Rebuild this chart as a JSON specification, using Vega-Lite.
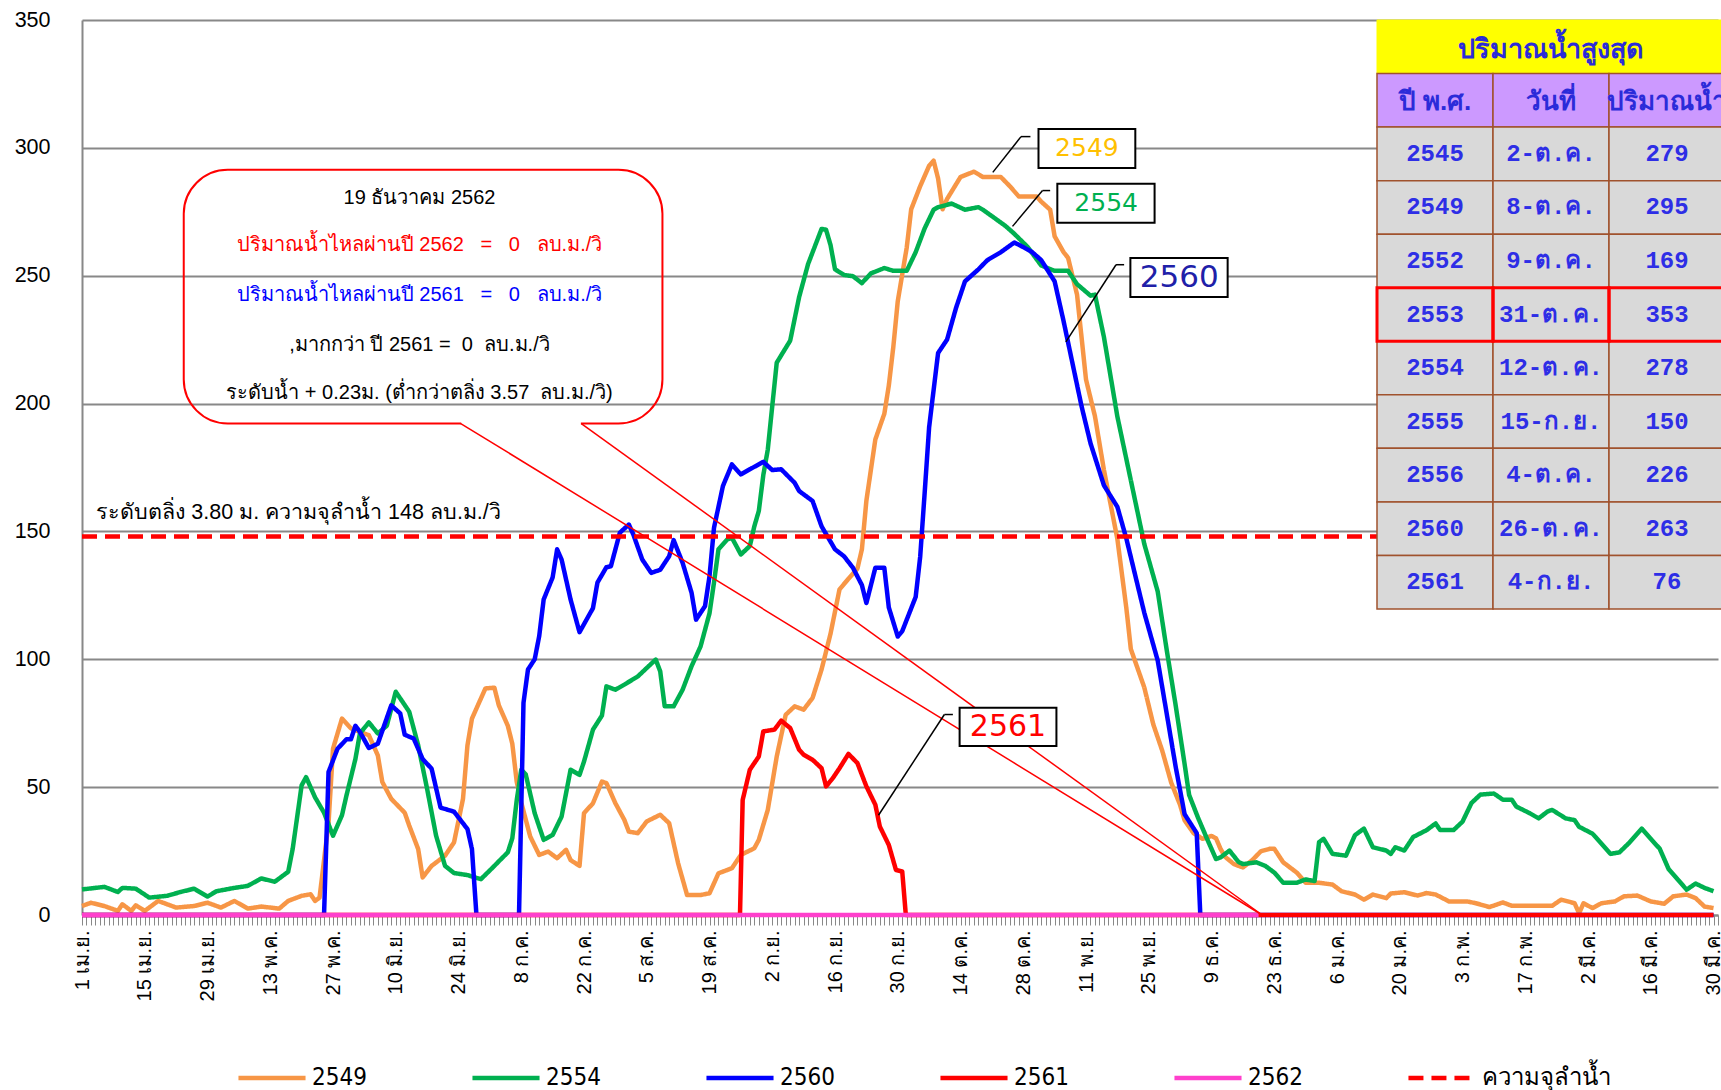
{
"$schema":"https://vega.github.io/schema/vega-lite/v6.json",
"width":1636,"height":895,
"autosize":{"type":"none"},
"padding":{"left":82,"top":20,"right":3,"bottom":175},
"background":"white",
"config":{"view":{"stroke":null},"font":"Liberation Sans"},
"datasets":{
"one":[{}],
"tbl":[{"year":"2545","date":"2-ต.ค.","flow":"279"},{"year":"2549","date":"8-ต.ค.","flow":"295"},{"year":"2552","date":"9-ต.ค.","flow":"169"},{"year":"2553","date":"31-ต.ค.","flow":"353"},{"year":"2554","date":"12-ต.ค.","flow":"278"},{"year":"2555","date":"15-ก.ย.","flow":"150"},{"year":"2556","date":"4-ต.ค.","flow":"226"},{"year":"2560","date":"26-ต.ค.","flow":"263"},{"year":"2561","date":"4-ก.ย.","flow":"76"}],
"hdr":[{"col":"year","label":"ปี พ.ศ."},{"col":"date","label":"วันที่"},{"col":"flow","label":"ปริมาณน้ำ"}],
"flow":[
{"s":"2549","d":0,"q":3.5},{"s":"2549","d":2,"q":4.8},{"s":"2549","d":5,"q":3.5},{"s":"2549","d":8,"q":1.6},{"s":"2549","d":9,"q":4.2},{"s":"2549","d":11,"q":1.6},{"s":"2549","d":12,"q":3.8},{"s":"2549","d":14,"q":1.6},{"s":"2549","d":17,"q":5.5},{"s":"2549","d":21,"q":2.9},{"s":"2549","d":25,"q":3.5},{"s":"2549","d":28,"q":4.8},{"s":"2549","d":31,"q":2.9},{"s":"2549","d":34,"q":5.5},{"s":"2549","d":37,"q":2.5},{"s":"2549","d":40,"q":3.3},{"s":"2549","d":44,"q":2.5},{"s":"2549","d":46,"q":5.5},{"s":"2549","d":49,"q":7.5},{"s":"2549","d":51,"q":8.1},{"s":"2549","d":52,"q":5.5},{"s":"2549","d":53,"q":6.8},{"s":"2549","d":55,"q":36},{"s":"2549","d":56,"q":65},{"s":"2549","d":58,"q":76.8},{"s":"2549","d":60,"q":73},{"s":"2549","d":62,"q":71.6},{"s":"2549","d":64,"q":70.3},{"s":"2549","d":66,"q":62.4},{"s":"2549","d":67,"q":52},{"s":"2549","d":69,"q":45.4},{"s":"2549","d":72,"q":40},{"s":"2549","d":73,"q":35},{"s":"2549","d":75,"q":25.8},{"s":"2549","d":76,"q":14.7},{"s":"2549","d":78,"q":19.2},{"s":"2549","d":81,"q":23.2},{"s":"2549","d":83,"q":28.4},{"s":"2549","d":85,"q":45.4},{"s":"2549","d":86,"q":66.4},{"s":"2549","d":87,"q":76.8},{"s":"2549","d":90,"q":88.6},{"s":"2549","d":92,"q":88.9},{"s":"2549","d":93,"q":82},{"s":"2549","d":95,"q":74},{"s":"2549","d":96,"q":67},{"s":"2549","d":97,"q":52},{"s":"2549","d":98,"q":44},{"s":"2549","d":100,"q":30.7},{"s":"2549","d":102,"q":23.5},{"s":"2549","d":104,"q":24.8},{"s":"2549","d":106,"q":22.2},{"s":"2549","d":108,"q":25.5},{"s":"2549","d":109,"q":21.5},{"s":"2549","d":111,"q":19.2},{"s":"2549","d":112,"q":39.8},{"s":"2549","d":114,"q":43.7},{"s":"2549","d":116,"q":52.2},{"s":"2549","d":117,"q":51.6},{"s":"2549","d":119,"q":43.7},{"s":"2549","d":121,"q":37.2},{"s":"2549","d":122,"q":32.6},{"s":"2549","d":124,"q":32},{"s":"2549","d":126,"q":36.6},{"s":"2549","d":129,"q":39.2},{"s":"2549","d":131,"q":35.9},{"s":"2549","d":133,"q":20.2},{"s":"2549","d":135,"q":7.8},{"s":"2549","d":138,"q":7.8},{"s":"2549","d":140,"q":8.5},{"s":"2549","d":142,"q":16.3},{"s":"2549","d":145,"q":18.3},{"s":"2549","d":147,"q":23.5},{"s":"2549","d":150,"q":26.1},{"s":"2549","d":151,"q":29.4},{"s":"2549","d":153,"q":41.1},{"s":"2549","d":155,"q":62},{"s":"2549","d":157,"q":78.3},{"s":"2549","d":159,"q":81.6},{"s":"2549","d":161,"q":80.3},{"s":"2549","d":163,"q":84.9},{"s":"2549","d":165,"q":96},{"s":"2549","d":167,"q":110},{"s":"2549","d":169,"q":127.3},{"s":"2549","d":171,"q":131.5},{"s":"2549","d":173,"q":135.5},{"s":"2549","d":174,"q":143},{"s":"2549","d":175,"q":162},{"s":"2549","d":177,"q":186},{"s":"2549","d":179,"q":196},{"s":"2549","d":180,"q":207},{"s":"2549","d":181,"q":222},{"s":"2549","d":182,"q":240},{"s":"2549","d":184,"q":261},{"s":"2549","d":185,"q":276},{"s":"2549","d":187,"q":285},{"s":"2549","d":189,"q":293},{"s":"2549","d":190,"q":295},{"s":"2549","d":191,"q":288},{"s":"2549","d":192,"q":276},{"s":"2549","d":193,"q":280},{"s":"2549","d":196,"q":288.6},{"s":"2549","d":199,"q":290.7},{"s":"2549","d":201,"q":288.6},{"s":"2549","d":205,"q":288.6},{"s":"2549","d":207,"q":285},{"s":"2549","d":209,"q":281},{"s":"2549","d":213,"q":281},{"s":"2549","d":214,"q":279},{"s":"2549","d":216,"q":275.8},{"s":"2549","d":217,"q":265.4},{"s":"2549","d":219,"q":259.2},{"s":"2549","d":220,"q":257},{"s":"2549","d":222,"q":242.6},{"s":"2549","d":223,"q":226},{"s":"2549","d":224,"q":209.4},{"s":"2549","d":226,"q":195},{"s":"2549","d":228,"q":174},{"s":"2549","d":231,"q":147},{"s":"2549","d":233,"q":120},{"s":"2549","d":234,"q":104},{"s":"2549","d":237,"q":89},{"s":"2549","d":239,"q":74.6},{"s":"2549","d":241,"q":64.3},{"s":"2549","d":243,"q":51.8},{"s":"2549","d":245,"q":43},{"s":"2549","d":246,"q":37},{"s":"2549","d":248,"q":32},{"s":"2549","d":250,"q":29.8},{"s":"2549","d":252,"q":30.9},{"s":"2549","d":253,"q":30},{"s":"2549","d":254,"q":25.9},{"s":"2549","d":255,"q":22.8},{"s":"2549","d":257,"q":19.9},{"s":"2549","d":259,"q":18.6},{"s":"2549","d":261,"q":21.3},{"s":"2549","d":263,"q":24.9},{"s":"2549","d":265,"q":25.9},{"s":"2549","d":266,"q":25.9},{"s":"2549","d":268,"q":20.6},{"s":"2549","d":271,"q":16.6},{"s":"2549","d":273,"q":12.6},{"s":"2549","d":276,"q":12.6},{"s":"2549","d":279,"q":11.9},{"s":"2549","d":281,"q":9.3},{"s":"2549","d":284,"q":8},{"s":"2549","d":286,"q":6},{"s":"2549","d":288,"q":8},{"s":"2549","d":291,"q":6.6},{"s":"2549","d":292,"q":8.4},{"s":"2549","d":295,"q":8.9},{"s":"2549","d":298,"q":7.6},{"s":"2549","d":300,"q":8.6},{"s":"2549","d":302,"q":8},{"s":"2549","d":305,"q":5.3},{"s":"2549","d":309,"q":5.3},{"s":"2549","d":311,"q":4.6},{"s":"2549","d":314,"q":3.1},{"s":"2549","d":317,"q":4.9},{"s":"2549","d":319,"q":3.6},{"s":"2549","d":323,"q":3.6},{"s":"2549","d":328,"q":3.6},{"s":"2549","d":330,"q":6},{"s":"2549","d":333,"q":4.6},{"s":"2549","d":334,"q":0.7},{"s":"2549","d":335,"q":4.6},{"s":"2549","d":337,"q":2.7},{"s":"2549","d":339,"q":4.6},{"s":"2549","d":342,"q":5.3},{"s":"2549","d":344,"q":7.3},{"s":"2549","d":347,"q":7.6},{"s":"2549","d":350,"q":5.3},{"s":"2549","d":353,"q":4.4},{"s":"2549","d":355,"q":7.3},{"s":"2549","d":358,"q":8},{"s":"2549","d":360,"q":6.6},{"s":"2549","d":362,"q":3.3},{"s":"2549","d":364,"q":2.7},
{"s":"2554","d":0,"q":10},{"s":"2554","d":5,"q":11},{"s":"2554","d":8,"q":9},{"s":"2554","d":9,"q":10.6},{"s":"2554","d":12,"q":10.3},{"s":"2554","d":15,"q":6.8},{"s":"2554","d":19,"q":7.5},{"s":"2554","d":22,"q":9},{"s":"2554","d":25,"q":10.3},{"s":"2554","d":28,"q":7.2},{"s":"2554","d":30,"q":9.3},{"s":"2554","d":34,"q":10.6},{"s":"2554","d":37,"q":11.4},{"s":"2554","d":40,"q":14.3},{"s":"2554","d":43,"q":13},{"s":"2554","d":46,"q":16.9},{"s":"2554","d":47,"q":25.8},{"s":"2554","d":49,"q":50.7},{"s":"2554","d":50,"q":53.9},{"s":"2554","d":52,"q":46},{"s":"2554","d":54,"q":40},{"s":"2554","d":56,"q":31},{"s":"2554","d":58,"q":39},{"s":"2554","d":59,"q":46.7},{"s":"2554","d":61,"q":61},{"s":"2554","d":62,"q":71},{"s":"2554","d":64,"q":75.3},{"s":"2554","d":66,"q":71},{"s":"2554","d":68,"q":74},{"s":"2554","d":70,"q":87.3},{"s":"2554","d":73,"q":79.5},{"s":"2554","d":75,"q":66.4},{"s":"2554","d":77,"q":49.3},{"s":"2554","d":79,"q":31},{"s":"2554","d":81,"q":19.2},{"s":"2554","d":83,"q":16.4},{"s":"2554","d":86,"q":15.6},{"s":"2554","d":89,"q":14},{"s":"2554","d":92,"q":19.2},{"s":"2554","d":93,"q":21},{"s":"2554","d":95,"q":24.5},{"s":"2554","d":96,"q":30},{"s":"2554","d":97,"q":45},{"s":"2554","d":98,"q":56.8},{"s":"2554","d":99,"q":55},{"s":"2554","d":101,"q":39.8},{"s":"2554","d":103,"q":29.4},{"s":"2554","d":105,"q":31.3},{"s":"2554","d":107,"q":38.5},{"s":"2554","d":109,"q":56.8},{"s":"2554","d":111,"q":54.8},{"s":"2554","d":112,"q":60},{"s":"2554","d":114,"q":72.5},{"s":"2554","d":116,"q":78},{"s":"2554","d":117,"q":89.4},{"s":"2554","d":119,"q":88.1},{"s":"2554","d":121,"q":90.1},{"s":"2554","d":124,"q":93.3},{"s":"2554","d":126,"q":96.6},{"s":"2554","d":128,"q":99.9},{"s":"2554","d":129,"q":95.3},{"s":"2554","d":130,"q":81.6},{"s":"2554","d":132,"q":81.6},{"s":"2554","d":134,"q":88.1},{"s":"2554","d":136,"q":97.3},{"s":"2554","d":138,"q":105},{"s":"2554","d":140,"q":118},{"s":"2554","d":141,"q":130},{"s":"2554","d":142,"q":143},{"s":"2554","d":144,"q":146.9},{"s":"2554","d":145,"q":147.5},{"s":"2554","d":147,"q":141},{"s":"2554","d":149,"q":144.3},{"s":"2554","d":150,"q":152},{"s":"2554","d":151,"q":158},{"s":"2554","d":152,"q":172},{"s":"2554","d":153,"q":182},{"s":"2554","d":155,"q":216},{"s":"2554","d":158,"q":224.6},{"s":"2554","d":160,"q":241.7},{"s":"2554","d":162,"q":254.6},{"s":"2554","d":165,"q":268.3},{"s":"2554","d":166,"q":268},{"s":"2554","d":167,"q":262},{"s":"2554","d":168,"q":252.5},{"s":"2554","d":170,"q":250.3},{"s":"2554","d":172,"q":249.8},{"s":"2554","d":174,"q":247.1},{"s":"2554","d":176,"q":250.9},{"s":"2554","d":179,"q":253},{"s":"2554","d":181,"q":251.9},{"s":"2554","d":184,"q":251.9},{"s":"2554","d":186,"q":259.2},{"s":"2554","d":188,"q":268.5},{"s":"2554","d":190,"q":275.8},{"s":"2554","d":191,"q":276.8},{"s":"2554","d":194,"q":278.2},{"s":"2554","d":197,"q":275.8},{"s":"2554","d":200,"q":276.8},{"s":"2554","d":201,"q":275.8},{"s":"2554","d":203,"q":273.3},{"s":"2554","d":206,"q":269.5},{"s":"2554","d":208,"q":266.4},{"s":"2554","d":211,"q":261.2},{"s":"2554","d":214,"q":254},{"s":"2554","d":217,"q":251.9},{"s":"2554","d":220,"q":251.9},{"s":"2554","d":222,"q":246.7},{"s":"2554","d":225,"q":242.2},{"s":"2554","d":226,"q":242.6},{"s":"2554","d":228,"q":226},{"s":"2554","d":230,"q":205.3},{"s":"2554","d":231,"q":194.9},{"s":"2554","d":233,"q":178.3},{"s":"2554","d":235,"q":161.7},{"s":"2554","d":237,"q":145.1},{"s":"2554","d":240,"q":126.5},{"s":"2554","d":242,"q":103.7},{"s":"2554","d":244,"q":82},{"s":"2554","d":246,"q":59},{"s":"2554","d":247,"q":47},{"s":"2554","d":249,"q":38},{"s":"2554","d":251,"q":29.8},{"s":"2554","d":253,"q":21.9},{"s":"2554","d":254,"q":22.5},{"s":"2554","d":256,"q":25.2},{"s":"2554","d":258,"q":20.8},{"s":"2554","d":259,"q":19.9},{"s":"2554","d":262,"q":20.6},{"s":"2554","d":264,"q":19.2},{"s":"2554","d":266,"q":16.6},{"s":"2554","d":268,"q":12.6},{"s":"2554","d":271,"q":12.6},{"s":"2554","d":273,"q":13.9},{"s":"2554","d":275,"q":13.3},{"s":"2554","d":276,"q":28.5},{"s":"2554","d":277,"q":29.8},{"s":"2554","d":279,"q":23.9},{"s":"2554","d":282,"q":23.2},{"s":"2554","d":284,"q":31.2},{"s":"2554","d":286,"q":33.8},{"s":"2554","d":288,"q":26.5},{"s":"2554","d":291,"q":25.2},{"s":"2554","d":292,"q":23.9},{"s":"2554","d":293,"q":26.5},{"s":"2554","d":295,"q":25.2},{"s":"2554","d":297,"q":30.5},{"s":"2554","d":300,"q":33.2},{"s":"2554","d":302,"q":35.8},{"s":"2554","d":303,"q":33.2},{"s":"2554","d":306,"q":33.2},{"s":"2554","d":308,"q":36.5},{"s":"2554","d":310,"q":43.8},{"s":"2554","d":312,"q":47.1},{"s":"2554","d":315,"q":47.5},{"s":"2554","d":317,"q":45.1},{"s":"2554","d":319,"q":45.1},{"s":"2554","d":320,"q":42.4},{"s":"2554","d":323,"q":39.8},{"s":"2554","d":325,"q":37.8},{"s":"2554","d":327,"q":40.5},{"s":"2554","d":328,"q":41.1},{"s":"2554","d":331,"q":37.8},{"s":"2554","d":333,"q":37.1},{"s":"2554","d":334,"q":34.5},{"s":"2554","d":337,"q":31.8},{"s":"2554","d":340,"q":25.9},{"s":"2554","d":341,"q":23.9},{"s":"2554","d":343,"q":24.5},{"s":"2554","d":345,"q":27.9},{"s":"2554","d":348,"q":33.8},{"s":"2554","d":350,"q":29.8},{"s":"2554","d":352,"q":25.9},{"s":"2554","d":354,"q":17.9},{"s":"2554","d":356,"q":13.9},{"s":"2554","d":358,"q":9.9},{"s":"2554","d":360,"q":12.3},{"s":"2554","d":362,"q":10.6},{"s":"2554","d":364,"q":9.3},
{"s":"2560","d":0,"q":0},{"s":"2560","d":54,"q":0},{"s":"2560","d":55,"q":55.9},{"s":"2560","d":57,"q":65},{"s":"2560","d":59,"q":68.7},{"s":"2560","d":60,"q":68.7},{"s":"2560","d":61,"q":74},{"s":"2560","d":62,"q":71.6},{"s":"2560","d":64,"q":65.3},{"s":"2560","d":66,"q":67},{"s":"2560","d":69,"q":82},{"s":"2560","d":71,"q":78.8},{"s":"2560","d":72,"q":70.5},{"s":"2560","d":74,"q":69},{"s":"2560","d":76,"q":61},{"s":"2560","d":78,"q":57.2},{"s":"2560","d":80,"q":42},{"s":"2560","d":83,"q":40.4},{"s":"2560","d":86,"q":33.6},{"s":"2560","d":87,"q":25.8},{"s":"2560","d":88,"q":0},{"s":"2560","d":97.5,"q":0},{"s":"2560","d":98.5,"q":83},{"s":"2560","d":99.5,"q":96},{"s":"2560","d":101,"q":100},{"s":"2560","d":102,"q":109},{"s":"2560","d":103,"q":123.4},{"s":"2560","d":105,"q":132},{"s":"2560","d":106,"q":143},{"s":"2560","d":107,"q":139},{"s":"2560","d":109,"q":123.4},{"s":"2560","d":111,"q":110.6},{"s":"2560","d":114,"q":120},{"s":"2560","d":115,"q":130},{"s":"2560","d":117,"q":136},{"s":"2560","d":118,"q":136.4},{"s":"2560","d":120,"q":149.5},{"s":"2560","d":122,"q":152.7},{"s":"2560","d":123,"q":148.8},{"s":"2560","d":125,"q":139},{"s":"2560","d":127,"q":133.8},{"s":"2560","d":129,"q":135},{"s":"2560","d":131,"q":140.3},{"s":"2560","d":132,"q":146.6},{"s":"2560","d":134,"q":137.7},{"s":"2560","d":136,"q":126},{"s":"2560","d":137,"q":115.5},{"s":"2560","d":139,"q":120.8},{"s":"2560","d":140,"q":132.5},{"s":"2560","d":141,"q":151.4},{"s":"2560","d":143,"q":167.8},{"s":"2560","d":145,"q":176.2},{"s":"2560","d":147,"q":172.3},{"s":"2560","d":149,"q":174.3},{"s":"2560","d":152,"q":177.2},{"s":"2560","d":154,"q":174},{"s":"2560","d":156,"q":174.3},{"s":"2560","d":159,"q":169},{"s":"2560","d":160,"q":165.8},{"s":"2560","d":163,"q":161.9},{"s":"2560","d":165,"q":152},{"s":"2560","d":168,"q":143},{"s":"2560","d":170,"q":140.3},{"s":"2560","d":172,"q":135.8},{"s":"2560","d":174,"q":129},{"s":"2560","d":175,"q":122},{"s":"2560","d":177,"q":135.8},{"s":"2560","d":179,"q":135.8},{"s":"2560","d":180,"q":120.3},{"s":"2560","d":182,"q":108.9},{"s":"2560","d":183,"q":111},{"s":"2560","d":186,"q":124.4},{"s":"2560","d":187,"q":140},{"s":"2560","d":188,"q":165},{"s":"2560","d":189,"q":190.8},{"s":"2560","d":191,"q":219.8},{"s":"2560","d":193,"q":225},{"s":"2560","d":195,"q":237.4},{"s":"2560","d":197,"q":247.8},{"s":"2560","d":200,"q":252.5},{"s":"2560","d":202,"q":256.1},{"s":"2560","d":205,"q":259.2},{"s":"2560","d":208,"q":263},{"s":"2560","d":210,"q":261.2},{"s":"2560","d":212,"q":259.2},{"s":"2560","d":214,"q":256.1},{"s":"2560","d":217,"q":247.8},{"s":"2560","d":219,"q":232.2},{"s":"2560","d":221,"q":215.6},{"s":"2560","d":223,"q":199},{"s":"2560","d":225,"q":184.5},{"s":"2560","d":228,"q":168},{"s":"2560","d":231,"q":159.6},{"s":"2560","d":233,"q":147.2},{"s":"2560","d":235,"q":132.7},{"s":"2560","d":237,"q":118.2},{"s":"2560","d":240,"q":99.5},{"s":"2560","d":242,"q":78.8},{"s":"2560","d":244,"q":58},{"s":"2560","d":246,"q":39.4},{"s":"2560","d":248.7,"q":32},{"s":"2560","d":249.5,"q":0},{"s":"2560","d":364,"q":0},
{"s":"2561","d":0,"q":0},{"s":"2561","d":146.8,"q":0},{"s":"2561","d":147.4,"q":45},{"s":"2561","d":149,"q":56.8},{"s":"2561","d":151,"q":62},{"s":"2561","d":152,"q":71.8},{"s":"2561","d":154.5,"q":72.5},{"s":"2561","d":156,"q":76},{"s":"2561","d":158,"q":73.1},{"s":"2561","d":160,"q":64.6},{"s":"2561","d":161,"q":62.7},{"s":"2561","d":163,"q":60.7},{"s":"2561","d":165,"q":57.4},{"s":"2561","d":166,"q":50.3},{"s":"2561","d":167.5,"q":53.5},{"s":"2561","d":169,"q":57.4},{"s":"2561","d":171,"q":63},{"s":"2561","d":173,"q":59.4},{"s":"2561","d":175,"q":50.3},{"s":"2561","d":177,"q":43.1},{"s":"2561","d":178,"q":34.6},{"s":"2561","d":180,"q":27.4},{"s":"2561","d":181.6,"q":17.6},{"s":"2561","d":183,"q":17},{"s":"2561","d":183.8,"q":0},{"s":"2561","d":364,"q":0},
{"s":"2562","d":0,"q":0},{"s":"2562","d":262.5,"q":0},
{"s":"ความจุลำน้ำ","d":0,"q":148},{"s":"ความจุลำน้ำ","d":365,"q":148}
]},
"layer":[
{"layer":[
{"data":{"name":"flow"},
 "mark":{"type":"line","strokeJoin":"round"},
 "encoding":{
  "x":{"field":"d","type":"quantitative","scale":{"domain":[0,365],"nice":false,"zero":false},
   "axis":{"title":null,"tickCount":365,"labelExpr":"datum.value % 14 == 0 ? ['1 เม.ย.','15 เม.ย.','29 เม.ย.','13 พ.ค.','27 พ.ค.','10 มิ.ย.','24 มิ.ย.','8 ก.ค.','22 ก.ค.','5 ส.ค.','19 ส.ค.','2 ก.ย.','16 ก.ย.','30 ก.ย.','14 ต.ค.','28 ต.ค.','11 พ.ย.','25 พ.ย.','9 ธ.ค.','23 ธ.ค.','6 ม.ค.','20 ม.ค.','3 ก.พ.','17 ก.พ.','2 มี.ค.','16 มี.ค.','30 มี.ค.'][datum.value / 14] : ''","labelAngle":270,"labelFontSize":20,"labelColor":"#000","labelOverlap":false,"labelFlush":false,"labelBound":false,"tickColor":"#888","tickSize":10,"tickWidth":1,"domainColor":"#888","domainWidth":2,"grid":false,"labelPadding":5}},
  "y":{"field":"q","type":"quantitative","scale":{"domain":[0,350],"nice":false},
   "axis":{"title":null,"values":[0,50,100,150,200,250,300,350],"grid":true,"gridColor":"#888","gridWidth":2,"ticks":false,"domainColor":"#888","domainWidth":2,"labelFontSize":21.5,"labelColor":"#000","labelPadding":32}},
  "color":{"field":"s","type":"nominal","scale":{"domain":["2549","2554","2560","2561","2562","ความจุลำน้ำ"],"range":["#F79646","#00B050","#0000FF","#FF0000","#FF40CC","#FF0000"]},
   "legend":{"orient":"none","legendX":154,"legendY":1022,"direction":"horizontal","columns":6,"title":null,"symbolType":"stroke","symbolSize":4500,"symbolStrokeWidth":7,"labelFontSize":24,"labelFont":"DejaVu Sans Condensed, Liberation Sans","labelColor":"#000","columnPadding":22,"gridAlign":"all","labelOffset":4}},
  "strokeDash":{"field":"s","type":"nominal","scale":{"domain":["2549","2554","2560","2561","2562","ความจุลำน้ำ"],"range":[[1,0],[1,0],[1,0],[1,0],[1,0],[15,8]]},
   "legend":{"orient":"none","legendX":154,"legendY":1022,"direction":"horizontal","columns":6,"title":null,"symbolType":"stroke","symbolSize":4500,"symbolStrokeWidth":7,"labelFontSize":24,"labelFont":"DejaVu Sans Condensed, Liberation Sans","labelColor":"#000","columnPadding":22,"gridAlign":"all","labelOffset":4}},
  "strokeWidth":{"field":"s","type":"ordinal","scale":{"domain":["2549","2554","2560","2561","2562","ความจุลำน้ำ"],"range":[4.5,4.5,5.5,5,5,4.5]},"legend":null}
 }},
{"data":{"name":"one"},"mark":{"type":"rect","filled":false,"stroke":"#FF0000","strokeWidth":2,"cornerRadius":44},"encoding":{"x":{"datum":22.7},"x2":{"datum":129.5},"y":{"datum":291.4},"y2":{"datum":192.2}}},
{"data":{"name":"one"},"mark":{"type":"rule","color":"white","strokeWidth":4},"encoding":{"x":{"datum":84.6},"x2":{"datum":111.3},"y":{"datum":192.2},"y2":{"datum":192.2}}},
{"data":{"name":"one"},"mark":{"type":"rule","color":"#FF0000","strokeWidth":1.5},"encoding":{"x":{"datum":84.5},"x2":{"datum":263.3},"y":{"datum":192.2},"y2":{"datum":0}}},
{"data":{"name":"one"},"mark":{"type":"rule","color":"#FF0000","strokeWidth":1.5},"encoding":{"x":{"datum":111.4},"x2":{"datum":263.3},"y":{"datum":192.2},"y2":{"datum":0}}},
{"data":{"name":"one"},"mark":{"type":"text","text":"19 ธันวาคม 2562","fontSize":20,"color":"#000"},"encoding":{"x":{"datum":75.3},"y":{"datum":280.3}}},
{"data":{"name":"one"},"mark":{"type":"text","text":"ปริมาณน้ำไหลผ่านปี 2562\u00a0\u00a0\u00a0=\u00a0\u00a0\u00a00\u00a0\u00a0\u00a0ลบ.ม./วิ","fontSize":20,"color":"#FF0000"},"encoding":{"x":{"datum":75.3},"y":{"datum":261.9}}},
{"data":{"name":"one"},"mark":{"type":"text","text":"ปริมาณน้ำไหลผ่านปี 2561\u00a0\u00a0\u00a0=\u00a0\u00a0\u00a00\u00a0\u00a0\u00a0ลบ.ม./วิ","fontSize":20,"color":"#0000FF"},"encoding":{"x":{"datum":75.3},"y":{"datum":242.6}}},
{"data":{"name":"one"},"mark":{"type":"text","text":",มากกว่า ปี 2561 =\u00a0\u00a00\u00a0\u00a0ลบ.ม./วิ","fontSize":20,"color":"#000"},"encoding":{"x":{"datum":75.3},"y":{"datum":222.8}}},
{"data":{"name":"one"},"mark":{"type":"text","text":"ระดับน้ำ + 0.23ม. (ต่ำกว่าตลิ่ง 3.57\u00a0\u00a0ลบ.ม./วิ)","fontSize":20,"color":"#000"},"encoding":{"x":{"datum":75.3},"y":{"datum":204.3}}},
{"data":{"name":"one"},"mark":{"type":"text","text":"ระดับตลิ่ง 3.80 ม. ความจุลำน้ำ 148 ลบ.ม./วิ","fontSize":21.5,"color":"#000","align":"left"},"encoding":{"x":{"datum":3.2},"y":{"datum":157.1}}},
{"data":{"name":"one"},"mark":{"type":"rule","color":"black","strokeWidth":1.5},"encoding":{"x":{"datum":203.2},"x2":{"datum":209.5},"y":{"datum":290.4},"y2":{"datum":304.4}}},
{"data":{"name":"one"},"mark":{"type":"rule","color":"black","strokeWidth":1.5},"encoding":{"x":{"datum":209.5},"x2":{"datum":211.6},"y":{"datum":304.4},"y2":{"datum":304.4}}},
{"data":{"name":"one"},"mark":{"type":"rule","color":"black","strokeWidth":1.5},"encoding":{"x":{"datum":207.6},"x2":{"datum":214.3},"y":{"datum":269.3},"y2":{"datum":283.3}}},
{"data":{"name":"one"},"mark":{"type":"rule","color":"black","strokeWidth":1.5},"encoding":{"x":{"datum":214.3},"x2":{"datum":216},"y":{"datum":283.3},"y2":{"datum":283.3}}},
{"data":{"name":"one"},"mark":{"type":"rule","color":"black","strokeWidth":1.5},"encoding":{"x":{"datum":219.5},"x2":{"datum":230.7},"y":{"datum":224.1},"y2":{"datum":254.3}}},
{"data":{"name":"one"},"mark":{"type":"rule","color":"black","strokeWidth":1.5},"encoding":{"x":{"datum":230.7},"x2":{"datum":232.5},"y":{"datum":254.3},"y2":{"datum":254.3}}},
{"data":{"name":"one"},"mark":{"type":"rule","color":"black","strokeWidth":1.5},"encoding":{"x":{"datum":177.7},"x2":{"datum":192.4},"y":{"datum":39},"y2":{"datum":78.4}}},
{"data":{"name":"one"},"mark":{"type":"rule","color":"black","strokeWidth":1.5},"encoding":{"x":{"datum":192.4},"x2":{"datum":194.3},"y":{"datum":78.4},"y2":{"datum":78.4}}},
{"data":{"name":"one"},"mark":{"type":"rect","fill":"white","stroke":"black","strokeWidth":2},"encoding":{"x":{"datum":213.4},"x2":{"datum":235.0},"y":{"datum":307.4},"y2":{"datum":292.1}}},
{"data":{"name":"one"},"mark":{"type":"rect","fill":"white","stroke":"black","strokeWidth":2},"encoding":{"x":{"datum":217.6},"x2":{"datum":239.3},"y":{"datum":286.0},"y2":{"datum":270.7}}},
{"data":{"name":"one"},"mark":{"type":"rect","fill":"white","stroke":"black","strokeWidth":2},"encoding":{"x":{"datum":233.9},"x2":{"datum":255.6},"y":{"datum":256.9},"y2":{"datum":241.7}}},
{"data":{"name":"one"},"mark":{"type":"rect","fill":"white","stroke":"black","strokeWidth":2},"encoding":{"x":{"datum":195.8},"x2":{"datum":217.4},"y":{"datum":81.0},"y2":{"datum":66.1}}},
{"data":{"name":"one"},"mark":{"type":"text","text":"2549","fontSize":25,"font":"DejaVu Sans","color":"#FFC000"},"encoding":{"x":{"datum":224.2},"y":{"datum":299.8}}},
{"data":{"name":"one"},"mark":{"type":"text","text":"2554","fontSize":25,"font":"DejaVu Sans","color":"#00B050"},"encoding":{"x":{"datum":228.5},"y":{"datum":278.4}}},
{"data":{"name":"one"},"mark":{"type":"text","text":"2560","fontSize":31,"font":"DejaVu Sans","color":"#2020A8"},"encoding":{"x":{"datum":244.8},"y":{"datum":249.3}}},
{"data":{"name":"one"},"mark":{"type":"text","text":"2561","fontSize":30,"font":"DejaVu Sans","color":"#FF0000"},"encoding":{"x":{"datum":206.6},"y":{"datum":73.5}}}
]},
{"layer":[
{"data":{"name":"hdr"},"mark":{"type":"rect","fill":"#FFFF00","stroke":"#FFFF00","strokeWidth":1},
 "encoding":{"x":{"field":"col","type":"nominal","scale":{"type":"band","domain":["year","date","flow"],"range":[1295,1643],"paddingInner":0,"paddingOuter":0},"axis":null},
  "y":{"datum":"title","type":"nominal","scale":{"type":"band","domain":["title","header","2545","2549","2552","2553","2554","2555","2556","2560","2561"],"range":[0,589],"paddingInner":0,"paddingOuter":0},"axis":null}}},
{"data":{"name":"hdr"},"mark":{"type":"rect","fill":"#CC99FF","stroke":"#A0522D","strokeWidth":1.5},
 "encoding":{"x":{"field":"col","type":"nominal"},"y":{"datum":"header","type":"nominal"}}},
{"data":{"name":"tbl"},"transform":[{"fold":["year","date","flow"],"as":["col","cell"]}],"mark":{"type":"rect","fill":"#D9D9D9","stroke":"#A0522D","strokeWidth":1.5},
 "encoding":{"x":{"field":"col","type":"nominal"},"y":{"field":"year","type":"nominal"}}},
{"data":{"name":"tbl"},"transform":[{"filter":"datum.year == '2553'"},{"fold":["year","date","flow"],"as":["col","cell"]}],"mark":{"type":"rect","filled":false,"stroke":"#FF0000","strokeWidth":3},
 "encoding":{"x":{"field":"col","type":"nominal"},"y":{"field":"year","type":"nominal"}}},
{"data":{"name":"hdr"},"transform":[{"filter":"datum.col == 'date'"}],"mark":{"type":"text","text":"ปริมาณน้ำสูงสุด","fontSize":27,"fontWeight":"bold","color":"#2B2BD9","dy":3},
 "encoding":{"x":{"field":"col","type":"nominal"},"y":{"datum":"title","type":"nominal"}}},
{"data":{"name":"hdr"},"mark":{"type":"text","fontSize":26,"fontWeight":"bold","color":"#2B2BD9","dy":2},
 "encoding":{"x":{"field":"col","type":"nominal"},"y":{"datum":"header","type":"nominal"},"text":{"field":"label"}}},
{"data":{"name":"tbl"},"transform":[{"fold":["year","date","flow"],"as":["col","cell"]}],"mark":{"type":"text","fontSize":24,"fontWeight":"bold","font":"Liberation Mono","color":"#2E2EE6"},
 "encoding":{"x":{"field":"col","type":"nominal"},"y":{"field":"year","type":"nominal"},"text":{"field":"cell"}}}
]}
],
"resolve":{"scale":{"x":"independent","y":"independent"}}
}
